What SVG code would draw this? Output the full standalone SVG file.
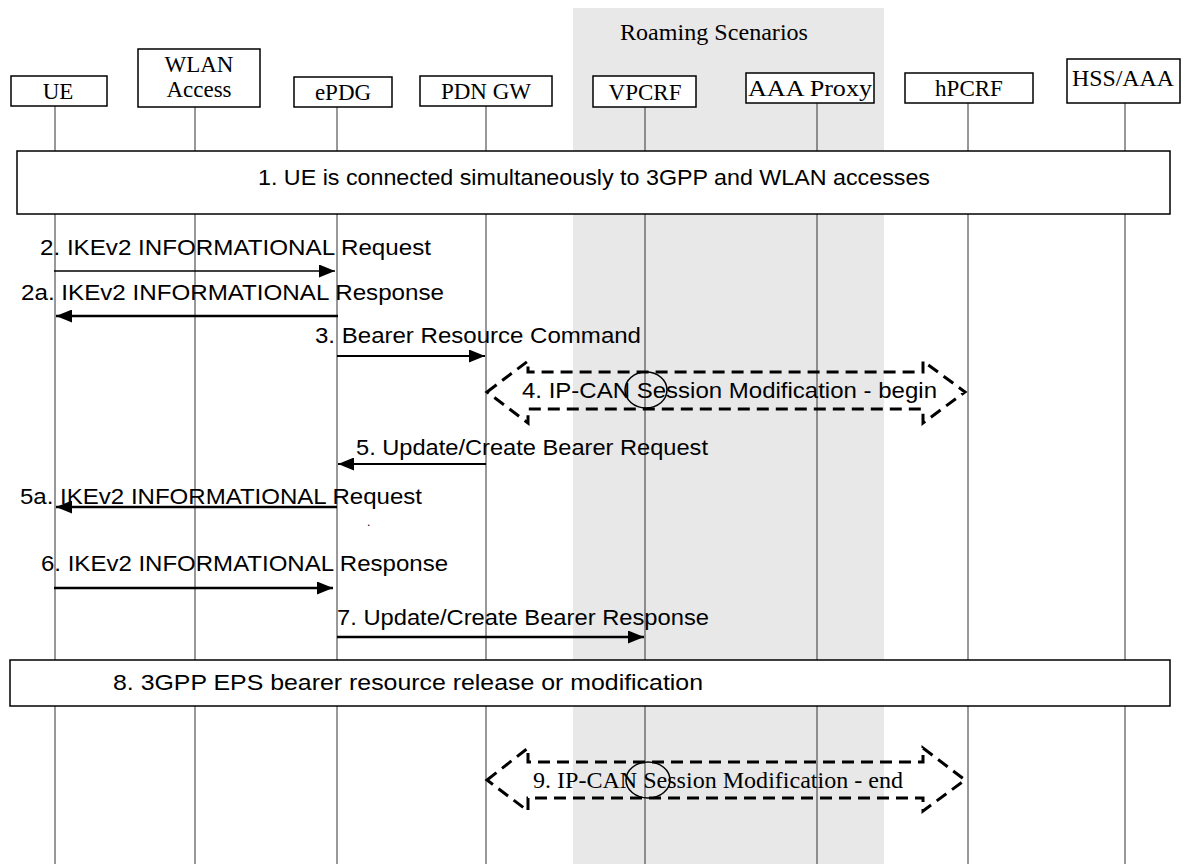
<svg xmlns="http://www.w3.org/2000/svg" width="1186" height="864" viewBox="0 0 1186 864">
<defs>
<style>
.hd{font-family:"Liberation Serif","Times New Roman",serif;font-size:23px;fill:#000;text-anchor:middle}
.msg{font-family:"Liberation Sans",Arial,sans-serif;font-size:22px;fill:#000}
.box{fill:#fff;stroke:#000;stroke-width:1.5}
.life{stroke:#333;stroke-width:1}
.arr{stroke:#000;stroke-width:2;fill:none;marker-end:url(#ah)}
.dash{fill:none;stroke:#000;stroke-width:3;stroke-dasharray:12 7}
.circ{fill:none;stroke:#000;stroke-width:1.5}
</style>
<marker id="ah" markerUnits="userSpaceOnUse" markerWidth="16" markerHeight="13" refX="16" refY="6.5" orient="auto">
<path d="M0,0 L16,6.5 L0,13 z" fill="#000"/>
</marker>
</defs>
<rect width="1186" height="864" fill="#fff"/>
<rect x="573" y="8" width="311" height="856" fill="#e8e8e8"/>
<text class="hd" x="714" y="40" textLength="188" lengthAdjust="spacingAndGlyphs">Roaming Scenarios</text>

<g id="lifelines">
<line class="life" x1="55" y1="106" x2="55" y2="864"/>
<line class="life" x1="195" y1="107" x2="195" y2="864"/>
<line class="life" x1="337" y1="107" x2="337" y2="864"/>
<line class="life" x1="486" y1="106" x2="486" y2="864"/>
<line class="life" x1="645" y1="107" x2="645" y2="864"/>
<line class="life" x1="817" y1="103" x2="817" y2="864"/>
<line class="life" x1="968" y1="103" x2="968" y2="864"/>
<line class="life" x1="1125" y1="103" x2="1125" y2="864"/>
</g>

<g id="UE"><rect class="box" x="11" y="76" width="96" height="30"/><text class="hd" x="58" y="99">UE</text></g>
<g id="WLAN"><rect class="box" x="138" y="49" width="122" height="58"/><text class="hd" x="199" y="72">WLAN</text><text class="hd" x="199" y="97">Access</text></g>
<g id="ePDG"><rect class="box" x="294" y="77" width="98" height="30"/><text class="hd" x="343" y="100">ePDG</text></g>
<g id="PDNGW"><rect class="box" x="420" y="76" width="132" height="30"/><text class="hd" x="486" y="99">PDN GW</text></g>
<g id="VPCRF"><rect class="box" x="593" y="76" width="103" height="31"/><text class="hd" x="645" y="100">VPCRF</text></g>
<g id="AAAProxy"><rect class="box" x="746" y="73" width="128" height="30"/><text class="hd" x="810" y="96" textLength="124" lengthAdjust="spacingAndGlyphs">AAA Proxy</text></g>
<g id="hPCRF"><rect class="box" x="905" y="73" width="128" height="30"/><text class="hd" x="969" y="96">hPCRF</text></g>
<g id="HSSAAA"><rect class="box" x="1067" y="59" width="113" height="44"/><text class="hd" x="1123" y="86" textLength="102" lengthAdjust="spacingAndGlyphs">HSS/AAA</text></g>

<g id="step1"><rect class="box" x="17" y="151" width="1153" height="63"/><text class="msg" x="258" y="185" textLength="672" lengthAdjust="spacingAndGlyphs">1. UE is connected simultaneously to 3GPP and WLAN accesses</text></g>

<g id="step8"><rect class="box" x="10" y="660" width="1160" height="46"/><text class="msg" x="113" y="690" textLength="590" lengthAdjust="spacingAndGlyphs">8. 3GPP EPS bearer resource release or modification</text></g>

<g id="step4">
<path class="dash" d="M487,392 L528,361 L528,372 L923,372 L923,361 L965,392 L923,423 L923,409 L528,409 L528,423 Z"/>
<ellipse class="circ" cx="646" cy="390" rx="21" ry="18"/>
<text class="msg" x="522" y="398" textLength="415" lengthAdjust="spacingAndGlyphs">4. IP-CAN Session Modification - begin</text>
</g>

<g id="step9">
<path class="dash" d="M487,780 L528,748 L528,762 L923,762 L923,748 L965,780 L923,811 L923,798 L528,798 L528,811 Z"/>
<ellipse class="circ" cx="648" cy="780" rx="22" ry="18"/>
<text class="hd" style="text-anchor:start" x="533" y="788" textLength="370" lengthAdjust="spacingAndGlyphs">9. IP-CAN Session Modification - end</text>
</g>

<g id="connectors">
<line class="arr" style="stroke-width:1.5" x1="54" y1="271" x2="335" y2="271"/>
<line class="arr" style="stroke-width:2.5" x1="338" y1="316" x2="56" y2="316"/>
<line class="arr" x1="337" y1="356" x2="485" y2="356"/>
<line class="arr" x1="486" y1="464" x2="338" y2="464"/>
<line class="arr" style="stroke-width:2.5" x1="337" y1="507" x2="56" y2="507"/>
<line class="arr" style="stroke-width:2.5" x1="54" y1="588" x2="333" y2="588"/>
<line class="arr" style="stroke-width:2.5" x1="337" y1="637" x2="644" y2="637"/>
</g>

<g id="labels">
<text class="msg" x="40" y="255" textLength="391" lengthAdjust="spacingAndGlyphs">2. IKEv2 INFORMATIONAL Request</text>
<text class="msg" x="21" y="300" textLength="423" lengthAdjust="spacingAndGlyphs">2a. IKEv2 INFORMATIONAL Response</text>
<text class="msg" x="315" y="343" textLength="326" lengthAdjust="spacingAndGlyphs">3. Bearer Resource Command</text>
<text class="msg" x="356" y="455" textLength="352" lengthAdjust="spacingAndGlyphs">5. Update/Create Bearer Request</text>
<text class="msg" x="20" y="504" textLength="402" lengthAdjust="spacingAndGlyphs">5a. IKEv2 INFORMATIONAL Request</text>
<text class="msg" style="font-size:12px" x="367" y="526">.</text>
<text class="msg" x="41" y="571" textLength="407" lengthAdjust="spacingAndGlyphs">6. IKEv2 INFORMATIONAL Response</text>
<text class="msg" x="337" y="625" textLength="372" lengthAdjust="spacingAndGlyphs">7. Update/Create Bearer Response</text>
</g>
</svg>
